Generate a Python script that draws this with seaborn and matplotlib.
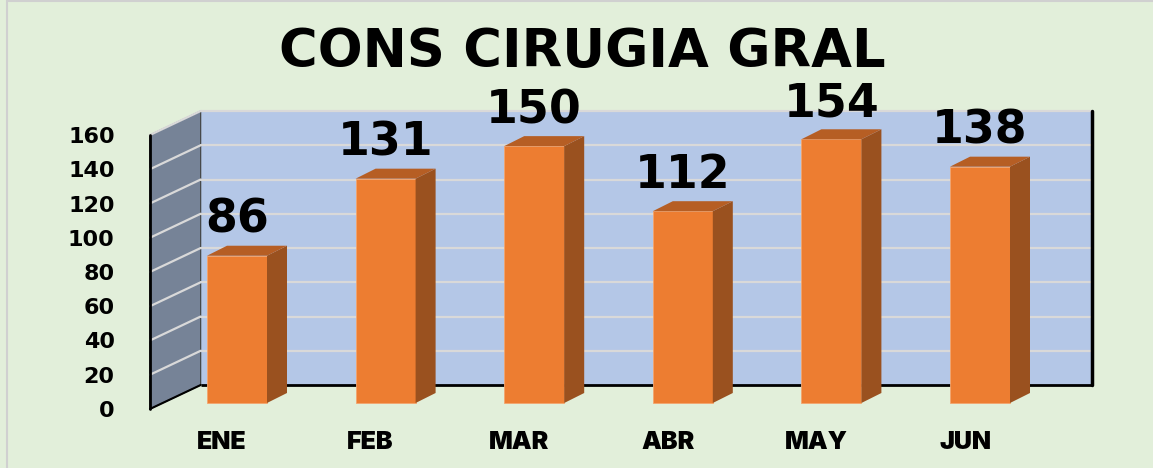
import matplotlib
matplotlib.use("Agg")
import matplotlib.pyplot as plt
from matplotlib.patches import Polygon, Rectangle
import seaborn as sns
import pandas as pd

# ---- data ----
months = ["ENE", "FEB", "MAR", "ABR", "MAY", "JUN"]
values = [86, 131, 150, 112, 154, 138]
yticks = [0, 20, 40, 60, 80, 100, 120, 140, 160]
title = "CONS CIRUGIA GRAL"

# ---- style ----
BG = "#e2efda"
BACK = "#b4c7e7"
SIDEWALL = "#768397"
GRID = "#d9d9d9"
FRONT = "#ed7d31"
TOP = "#b65e24"
SIDE = "#9a511f"
HEAVY = ["Inter", "DejaVu Sans"]
WIDE = ["DejaVu Sans"]

W, H, DPI = 1153, 468, 100
sns.set_theme(style="white")
plt.rcParams["font.family"] = ["DejaVu Sans"]

fig = plt.figure(figsize=(W / DPI, H / DPI), dpi=DPI, facecolor=BG)

# pixel geometry of the plot
x0_px, step_px = 237.0, 148.6
base_px, unit_px = 403.0, 1.7125
ax_l, ax_r, ax_t, ax_b = 148, 1110, 90, 425
ax = fig.add_axes([ax_l / W, (H - ax_b) / H, (ax_r - ax_l) / W, (ax_b - ax_t) / H])
ax.set_facecolor("none")

def px2x(dpx):
    return dpx / step_px

def px2y(dpx):
    return dpx / unit_px

df = pd.DataFrame({"mes": months, "n": values})
sns.barplot(data=df, x="mes", y="n", color=FRONT, saturation=1, width=60 / step_px,
            ax=ax, zorder=4, edgecolor="#f4a56e", linewidth=0.6)

ax.set_xlim((ax_l - x0_px) / step_px, (ax_r - x0_px) / step_px)
ax.set_ylim((base_px - ax_b) / unit_px, (base_px - ax_t) / unit_px)

dx, dy = px2x(20), px2y(10)
fx, fy = px2x(-12.75), px2y(-6)
bx, by = px2x(38), px2y(18)
xl, xr = -0.5, 5.5
vmax = yticks[-1]

ax.add_patch(Polygon([(xl + bx, by), (xr + bx, by), (xr + bx, vmax + by), (xl + bx, vmax + by)],
                     closed=True, facecolor=BACK, edgecolor="none", zorder=1))
ax.add_patch(Polygon([(xl + fx, fy), (xl + bx, by), (xl + bx, vmax + by), (xl + fx, vmax + fy)],
                     closed=True, facecolor=SIDEWALL, edgecolor="#3a3a3a", linewidth=0.8, zorder=1.5))
for v in yticks[1:]:
    ax.plot([xl + bx, xr + bx], [v + by, v + by], color=GRID, lw=1.6, zorder=2)
    ax.plot([xl + fx, xl + bx], [v + fy, v + by], color=GRID, lw=1.6, zorder=2)
ax.plot([xl + bx, xr + bx], [by, by], color="black", lw=2, zorder=2.5, solid_capstyle="butt")
ax.plot([xr + bx, xr + bx], [by, vmax + by], color="black", lw=2.5, zorder=2.5)
ax.plot([xl + fx, xl + fx], [fy, vmax + fy], color="black", lw=2, zorder=2.5)
ax.plot([xl + fx, xl + bx], [fy, by], color="black", lw=1.5, zorder=2.5)

for p, v in zip(ax.patches, values):
    x0 = p.get_x()
    x1 = x0 + p.get_width()
    h = p.get_height()
    ax.add_patch(Polygon([(x1, 0), (x1 + dx, dy), (x1 + dx, h + dy), (x1, h)],
                         closed=True, facecolor=SIDE, edgecolor="none", zorder=4))
    ax.add_patch(Polygon([(x0, h), (x1, h), (x1 + dx, h + dy), (x0 + dx, h + dy)],
                         closed=True, facecolor=TOP, edgecolor="none", zorder=4))
    ax.annotate(f"{v}", xy=(x0 + p.get_width() / 2, h), xytext=(0, 23 * 72 / DPI),
                textcoords="offset points", ha="center", va="baseline",
                fontsize=33, fontweight="bold", family=WIDE, color="black", zorder=6)

ax.set_yticks([v + fy for v in yticks], labels=[str(v) for v in yticks])
ax.set_xticks([i - px2x(15) for i in range(len(months))], labels=months)
ax.tick_params(axis="y", length=0, pad=24, labelsize=16, labelcolor="black")
ax.tick_params(axis="x", length=0, pad=4, labelsize=18, labelcolor="black")
for lab in ax.get_yticklabels():
    lab.set_fontweight("bold")
    lab.set_family(WIDE)
for lab in ax.get_xticklabels():
    lab.set_fontweight(900)
    lab.set_family(HEAVY)
ax.set_xlabel("")
ax.set_ylabel("")
for s in ax.spines.values():
    s.set_visible(False)

fig.text(582 / W, 1 - 67 / H, title, ha="center", va="baseline",
         fontsize=38, fontweight="bold", family=WIDE, color="black")

fig.add_artist(Rectangle((7 / W, -0.1), 1.2, 1 - 1 / H + 0.1, transform=fig.transFigure,
                         facecolor="none", edgecolor="#d0d0d0", linewidth=1.5))

fig.savefig("out.png", dpi=DPI, facecolor=BG)
